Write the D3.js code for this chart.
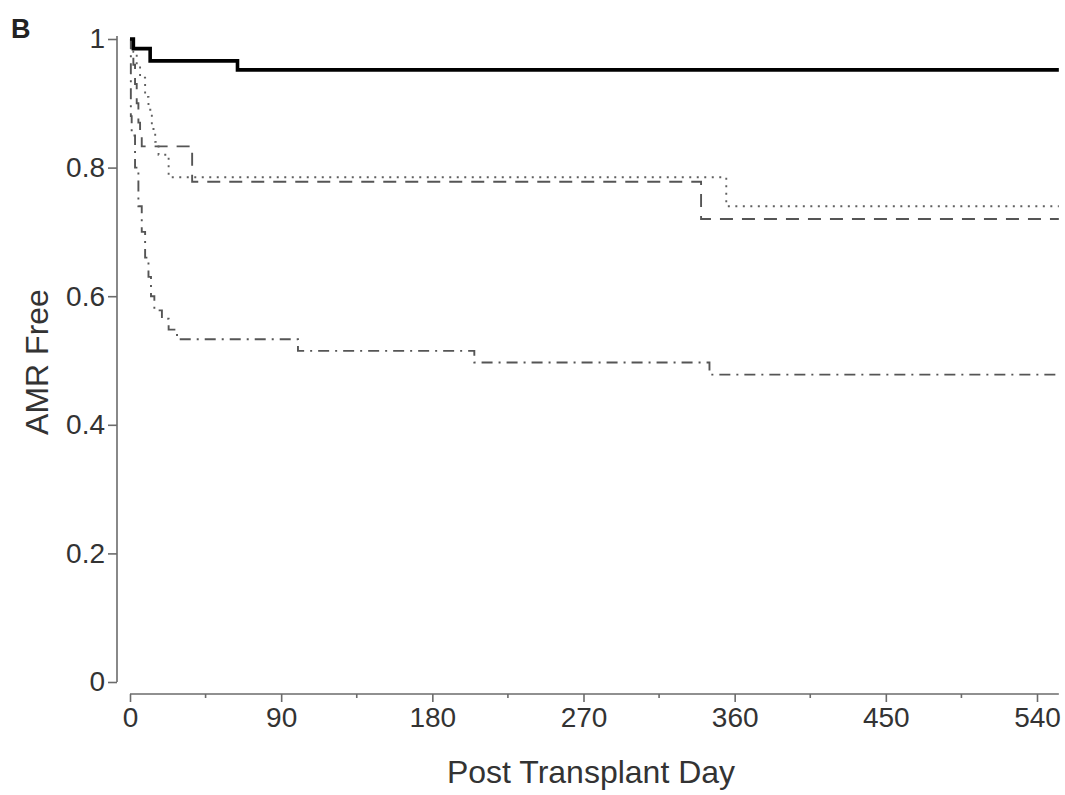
<!DOCTYPE html>
<html>
<head>
<meta charset="utf-8">
<script src="https://cdn.jsdelivr.net/npm/d3@7"></script>
<style>
  body { margin: 0; background: #fff; }
  svg { font-family: "Liberation Sans", Arial, sans-serif; }
  .axis path, .axis line { stroke: #6b6b6b; stroke-width: 1.6; }
  .axis text { fill: #333; font-size: 28px; }
  .km { fill: none; }
</style>
</head>
<body>
<script>
// step curves: [day, AMR free fraction]
let solidCurve = [[0, 1], [2, 0.985], [12, 0.966], [64, 0.952]];
let dottedCurve = [[0, 1], [2, 0.98], [4, 0.96], [6, 0.94], [9, 0.91], [11, 0.89], [13, 0.86],
  [15, 0.84], [17, 0.82], [23, 0.785], [355, 0.74]];
let dashedCurve = [[0, 1], [2, 0.96], [3, 0.93], [4, 0.9], [5, 0.87], [6, 0.85], [7, 0.833],
  [37, 0.778], [340, 0.72]];
let dashDotCurve = [[0, 1], [0.5, 0.88], [1, 0.85], [3, 0.8], [5, 0.74], [7, 0.7], [9, 0.66],
  [11, 0.63], [12.5, 0.6], [14.5, 0.578], [19, 0.565], [23, 0.548], [28, 0.533],
  [100, 0.515], [205, 0.497], [345, 0.478]];
let lastDay = 553;

let xTicks = [0, 90, 180, 270, 360, 450, 540];
let xMinorTicks = [45, 135, 225, 315, 405, 495];
let yTicks = [0, 0.2, 0.4, 0.6, 0.8, 1];

let width = 1065, height = 795;

let x = d3.scaleLinear().domain([0, 540]).range([130, 1037]);
let y = d3.scaleLinear().domain([0, 1]).range([682, 39]);

let svg = d3.select("body").append("svg")
  .attr("width", width)
  .attr("height", height);

// step line
let stepline = d3.line()
  .x(function(d) { return x(d[0]); })
  .y(function(d) { return y(d[1]); })
  .curve(d3.curveStepAfter);

function extend(c) {
  return c.concat([[lastDay, c[c.length - 1][1]]]);
}

svg.append("path").datum(extend(dashDotCurve)).attr("class", "km")
  .attr("stroke", "#555").attr("stroke-width", 1.9)
  .attr("stroke-dasharray", "11,6,2,6").attr("d", stepline);

svg.append("path").datum(extend(dashedCurve)).attr("class", "km")
  .attr("stroke", "#555").attr("stroke-width", 1.9)
  .attr("stroke-dasharray", "13,9").attr("d", stepline);

svg.append("path").datum(extend(dottedCurve)).attr("class", "km")
  .attr("stroke", "#606060").attr("stroke-width", 1.9)
  .attr("stroke-dasharray", "2,5.5").attr("d", stepline);

svg.append("path").datum(extend(solidCurve)).attr("class", "km")
  .attr("stroke", "#000").attr("stroke-width", 3.6).attr("d", stepline);

// Y axis
let yAxis = svg.append("g")
  .attr("class", "axis")
  .attr("transform", "translate(117,0)")
  .call(d3.axisLeft(y).tickValues(yTicks).tickSize(9).tickSizeOuter(0).tickPadding(3)
    .tickFormat(d3.format("")));
yAxis.select(".domain").attr("d", "M0," + y(0) + "V" + (y(1) - 3));

// X axis
let xAxis = svg.append("g")
  .attr("class", "axis")
  .attr("transform", "translate(0,694)")
  .call(d3.axisBottom(x).tickValues(xTicks).tickSize(8).tickSizeOuter(0).tickPadding(5));
xAxis.select(".domain").attr("d", "M" + x(0) + ",0H" + x(lastDay));

xAxis.selectAll(".minor").data(xMinorTicks).enter().append("line")
  .attr("x1", function(d) { return x(d); })
  .attr("x2", function(d) { return x(d); })
  .attr("y1", 0).attr("y2", 4);

// labels
svg.append("text")
  .attr("x", 591).attr("y", 783)
  .attr("text-anchor", "middle")
  .attr("font-size", "32px").attr("fill", "#333")
  .text("Post Transplant Day");

svg.append("text")
  .attr("transform", "translate(48,362) rotate(-90)")
  .attr("text-anchor", "middle")
  .attr("font-size", "32px").attr("fill", "#333")
  .text("AMR Free");

svg.append("text")
  .attr("x", 11).attr("y", 38)
  .attr("font-size", "27px").attr("font-weight", "bold").attr("fill", "#222")
  .text("B");
</script>
</body>
</html>
